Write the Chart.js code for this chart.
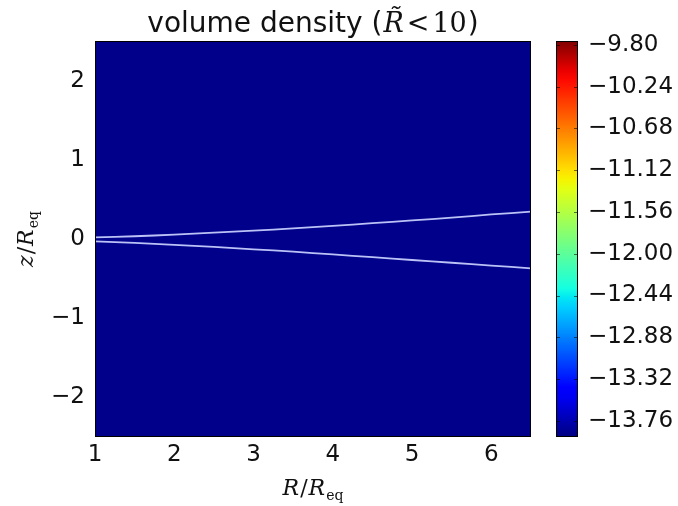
<!DOCTYPE html>
<html>
<head>
<meta charset="utf-8">
<script src="https://cdn.jsdelivr.net/npm/chart.js@4/dist/chart.umd.min.js"></script>
<style>
  html, body { margin: 0; padding: 0; background: #ffffff; }
  #wrap { width: 678px; height: 506px; }
</style>
</head>
<body>
<div id="wrap"><canvas id="c" width="678" height="506"></canvas></div>
<script>
// Disk surface z/R_eq against radius R/R_eq
const radius       = [1, 1.5, 2, 2.5, 3, 3.5, 4, 4.5, 5, 5.5, 6, 6.5];
const upperSurface = [0.02, 0.035, 0.055, 0.08, 0.105, 0.135, 0.165, 0.20, 0.235, 0.27, 0.31, 0.345];
const lowerSurface = [-0.03, -0.05, -0.075, -0.10, -0.13, -0.16, -0.195, -0.23, -0.265, -0.30, -0.335, -0.37];

// Axis ticks
const xTicks = [1, 2, 3, 4, 5, 6];
const yTicks = [-2, -1, 0, 1, 2];

// Colour bar (log volume density)
const cbTicks = [-9.80, -10.24, -10.68, -11.12, -11.56, -12.00, -12.44, -12.88, -13.32, -13.76];
const cbRange = [-13.93, -9.76];
const fieldLevel = -13.89;   // value filling the whole domain

const SANS = "'DejaVu Sans', sans-serif";
const SERIF = "'DejaVu Serif', serif";
const TICK_SIZE = 23;

// jet colormap
const jetStops = [
  [0.00, [0, 0, 128]], [0.11, [0, 0, 255]], [0.125, [0, 0, 255]],
  [0.34, [0, 219, 255]], [0.35, [0, 229, 246]], [0.375, [20, 255, 226]],
  [0.64, [238, 255, 8]], [0.65, [246, 244, 0]], [0.66, [255, 236, 0]],
  [0.89, [255, 19, 0]], [0.91, [255, 0, 0]], [1.00, [128, 0, 0]]
];
function jet(t) {
  t = Math.max(0, Math.min(1, t));
  for (let i = 1; i < jetStops.length; i++) {
    const [t1, c1] = jetStops[i], [t0, c0] = jetStops[i - 1];
    if (t <= t1) {
      const f = (t - t0) / (t1 - t0 || 1);
      const c = c0.map((v, k) => Math.round(v + (c1[k] - v) * f));
      return `rgb(${c[0]},${c[1]},${c[2]})`;
    }
  }
  return 'rgb(128,0,0)';
}

const minus = s => String(s).replace('-', '\u2212');

function drawRuns(ctx, runs, cx, baseline) {
  let total = 0;
  runs.forEach(r => { ctx.font = r.font; r.w = ctx.measureText(r.text).width; total += r.w + (r.gap || 0); });
  let x = cx - total / 2;
  runs.forEach(r => {
    ctx.font = r.font;
    ctx.fillText(r.text, x, baseline + (r.dy || 0));
    x += r.w + (r.gap || 0);
  });
}

function ratioRuns(sym) {
  return [
    { text: sym, font: `italic 22px ${SERIF}`, gap: 1 },
    { text: '/', font: `22px ${SERIF}`, gap: 1 },
    { text: 'R', font: `italic 22px ${SERIF}`, gap: 1 },
    { text: 'eq', font: `14px ${SERIF}`, dy: 5 }
  ];
}

const decor = {
  id: 'decor',
  beforeDatasetsDraw(chart) {
    const { ctx, chartArea: a } = chart;
    ctx.save();
    ctx.fillStyle = jet((fieldLevel - cbRange[0]) / (cbRange[1] - cbRange[0]));
    ctx.fillRect(a.left, a.top, a.right - a.left, a.bottom - a.top);
    ctx.restore();
  },
  afterDraw(chart) {
    const { ctx, chartArea: a } = chart;
    const cb = chart.scales.cb;
    ctx.save();
    // plot frame
    ctx.strokeStyle = '#000';
    ctx.lineWidth = 1;
    ctx.strokeRect(a.left + 0.5, a.top + 0.5, a.right - a.left - 1, a.bottom - a.top - 1);

    // colour bar
    const x0 = a.right + 25, x1 = a.right + 47;
    const yTop = cb.getPixelForValue(cbRange[1]), yBot = cb.getPixelForValue(cbRange[0]);
    const g = ctx.createLinearGradient(0, yBot, 0, yTop);
    for (let i = 0; i <= 40; i++) g.addColorStop(i / 40, jet(i / 40));
    ctx.fillStyle = g;
    ctx.fillRect(x0, yTop, x1 - x0, yBot - yTop);
    ctx.strokeStyle = 'rgba(0,0,0,0.55)';
    cbTicks.forEach(v => {
      const y = Math.round(cb.getPixelForValue(v)) + 0.5;
      ctx.beginPath();
      ctx.moveTo(x0, y); ctx.lineTo(x0 + 4, y);
      ctx.moveTo(x1 - 4, y); ctx.lineTo(x1, y);
      ctx.stroke();
    });
    ctx.strokeStyle = '#000';
    ctx.strokeRect(x0 + 0.5, yTop + 0.5, x1 - x0 - 1, yBot - yTop - 1);

    // title
    ctx.fillStyle = '#111';
    ctx.textBaseline = 'alphabetic';
    ctx.textAlign = 'left';
    drawRuns(ctx, [
      { text: 'volume density (', font: `28px ${SANS}`, gap: 1 },
      { text: 'R\u0303', font: `italic 27px ${SERIF}`, gap: 3 },
      { text: '<', font: `27px ${SERIF}`, gap: 3 },
      { text: '10', font: `27px ${SERIF}`, gap: 1 },
      { text: ')', font: `28px ${SANS}` }
    ], (a.left + a.right) / 2, 32);

    // axis titles
    drawRuns(ctx, ratioRuns('R'), (a.left + a.right) / 2, 495);
    ctx.translate(33, (a.top + a.bottom) / 2);
    ctx.rotate(-Math.PI / 2);
    drawRuns(ctx, ratioRuns('z'), 0, 0);
    ctx.restore();
  }
};

const lineStyle = {
  borderColor: '#bcc2f6',
  borderWidth: 1.8,
  pointRadius: 0,
  tension: 0.4,
  fill: false
};

new Chart(document.getElementById('c'), {
  type: 'line',
  data: {
    datasets: [
      { label: 'upper', data: radius.map((r, i) => ({ x: r, y: upperSurface[i] })), ...lineStyle },
      { label: 'lower', data: radius.map((r, i) => ({ x: r, y: lowerSurface[i] })), ...lineStyle }
    ]
  },
  options: {
    responsive: false,
    devicePixelRatio: 1,
    animation: false,
    events: [],
    layout: { padding: { top: 41, left: 0, right: 0, bottom: 0 } },
    plugins: { legend: { display: false }, tooltip: { enabled: false }, title: { display: false } },
    scales: {
      x: {
        type: 'linear', min: 1, max: 6.5,
        afterBuildTicks: s => { s.ticks = xTicks.map(v => ({ value: v })); },
        afterFit: s => { s.height = 69; },
        grid: { display: false, drawTicks: false },
        border: { display: false },
        ticks: { padding: 4, color: '#111', font: { family: SANS, size: TICK_SIZE }, callback: v => minus(v), maxRotation: 0 }
      },
      y: {
        type: 'linear', min: -2.5, max: 2.5,
        afterBuildTicks: s => { s.ticks = yTicks.map(v => ({ value: v })); },
        afterFit: s => { s.width = 95; },
        grid: { display: false, drawTicks: false },
        border: { display: false },
        ticks: { padding: 10, color: '#111', font: { family: SANS, size: TICK_SIZE }, callback: v => minus(v) }
      },
      cb: {
        type: 'linear', position: 'right', min: cbRange[0], max: cbRange[1],
        afterBuildTicks: s => { s.ticks = cbTicks.map(v => ({ value: v })); },
        afterFit: s => { s.width = 147; },
        grid: { display: true, drawOnChartArea: false, drawTicks: true, tickLength: 51, color: 'rgba(0,0,0,0)' },
        border: { display: false },
        ticks: { padding: 6, color: '#111', font: { family: SANS, size: TICK_SIZE }, callback: v => minus(v.toFixed(2)) }
      }
    }
  },
  plugins: [decor]
});
</script>
</body>
</html>
